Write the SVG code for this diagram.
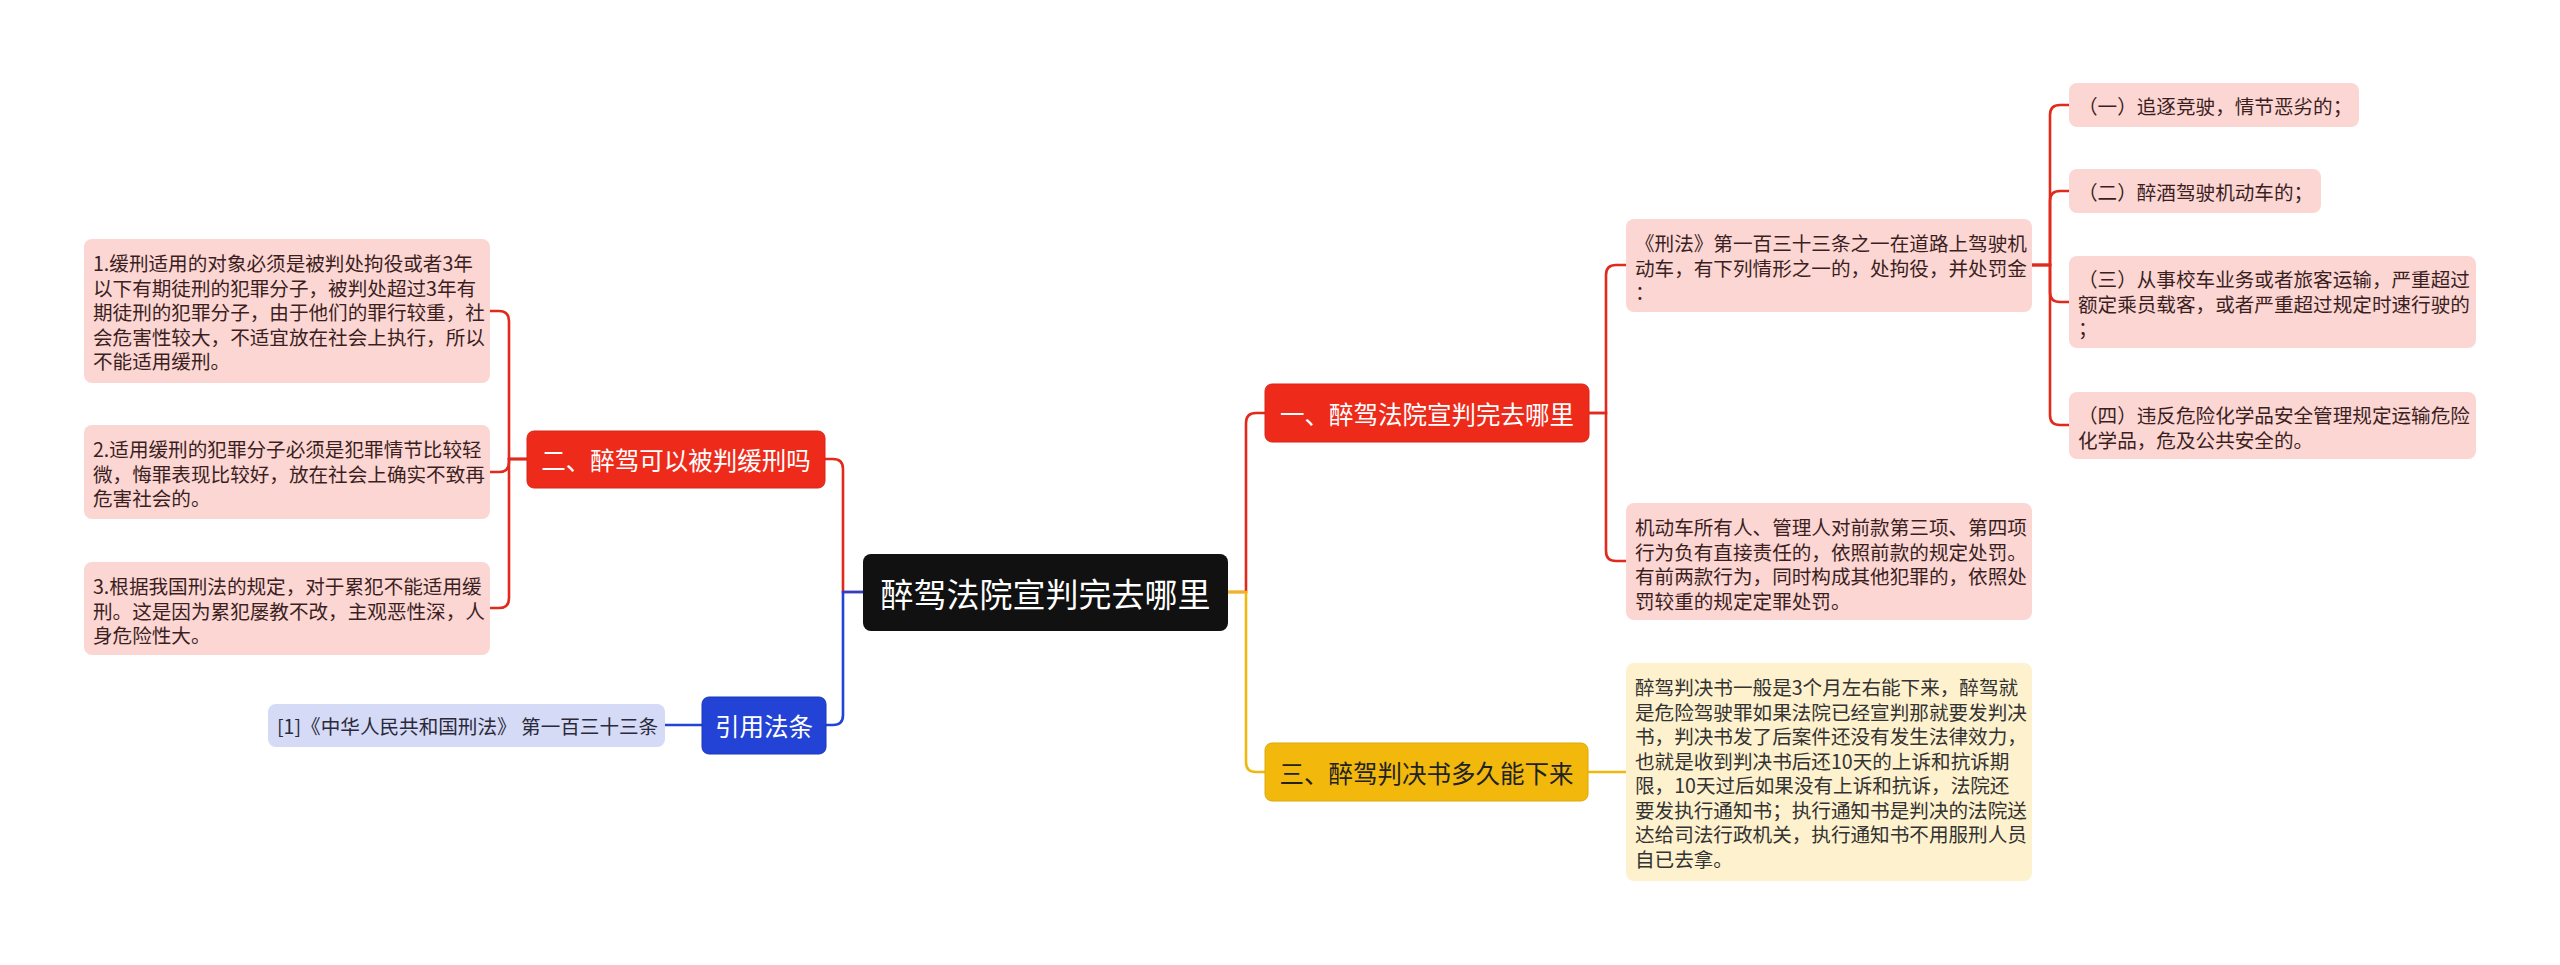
<svg xmlns="http://www.w3.org/2000/svg" width="2560" height="965" viewBox="0 0 2560 965">
<style>
text{font-family:"Noto Sans CJK SC","Noto Sans",sans-serif;dominant-baseline:central}
.lf{font-size:19.6px}
.pk{fill:#FCD6D3}
.pkt{fill:#3b1f1f}
.yl{fill:#FEF1CD}
.ylt{fill:#333333}
.lv{fill:#D5DAF6}
.lvt{fill:#2a2a3a}
.nd{font-size:24.5px;text-anchor:middle}
.red{fill:#EE2B1B;stroke:#D82518;stroke-width:1}
.blu{fill:#2343D6;stroke:#1C37B8;stroke-width:1}
.yel{fill:#F2B90C;stroke:#DDA808;stroke-width:1}
.w{fill:#ffffff}
.c{fill:none;stroke-width:2.6;stroke-linecap:round}
.cr{stroke:#E02A1C}
.cb{stroke:#2343D6}
.cy{stroke:#EFB80E}
</style>
<rect width="2560" height="965" fill="#ffffff"/>
<g id="connectors">
<path class="c cr" d="M863,592 H843 V469 Q843,459 833,459 H825"/>
<path class="c cb" d="M863,592 H843 V715 Q843,725 833,725 H826"/>
<path class="c cb" d="M702,725 H665"/>
<path class="c cr" d="M527,459 H509 V321 Q509,311 499,311 H490"/>
<path class="c cr" d="M527,459 H509 V462 Q509,472 499,472 H490"/>
<path class="c cr" d="M527,459 H509 V598 Q509,608 499,608 H490"/>
<path class="c cr" d="M1228,592 H1246 V423 Q1246,413 1256,413 H1265"/>
<path class="c cy" d="M1228,592 H1246 V762 Q1246,772 1256,772 H1265"/>
<path class="c cy" d="M1588,772 H1626"/>
<path class="c cr" d="M1589,413 H1606 V275 Q1606,265 1616,265 H1626"/>
<path class="c cr" d="M1589,413 H1606 V551 Q1606,561 1616,561 H1626"/>
<path class="c cr" d="M2032,265 H2050 V115 Q2050,105 2060,105 H2069"/>
<path class="c cr" d="M2032,265 H2050 V201 Q2050,191 2060,191 H2069"/>
<path class="c cr" d="M2032,265 H2050 V292 Q2050,302 2060,302 H2069"/>
<path class="c cr" d="M2032,265 H2050 V415 Q2050,425 2060,425 H2069"/>
</g>
<g id="root">
<rect x="863" y="554" width="365" height="77" rx="8" fill="#111111"/>
<text x="1045.5" y="592.5" font-size="33" text-anchor="middle" class="w">醉驾法院宣判完去哪里</text>
</g>
<g id="branch2">
<rect class="red" x="527" y="431" width="298" height="57" rx="7"/>
<text class="nd w" x="676" y="459.5">二、醉驾可以被判缓刑吗</text>
</g>
<g id="leaf2a">
<rect class="pk" x="84" y="239" width="406" height="144" rx="8"/>
<text class="lf pkt" x="93"><tspan x="93" y="262">1.缓刑适用的对象必须是被判处拘役或者3年</tspan><tspan x="93" y="286.5">以下有期徒刑的犯罪分子，被判处超过3年有</tspan><tspan x="93" y="311">期徒刑的犯罪分子，由于他们的罪行较重，社</tspan><tspan x="93" y="335.5">会危害性较大，不适宜放在社会上执行，所以</tspan><tspan x="93" y="360">不能适用缓刑。</tspan></text>
</g>
<g id="leaf2b">
<rect class="pk" x="84" y="425" width="406" height="94" rx="8"/>
<text class="lf pkt" x="93"><tspan x="93" y="448">2.适用缓刑的犯罪分子必须是犯罪情节比较轻</tspan><tspan x="93" y="472.5">微，悔罪表现比较好，放在社会上确实不致再</tspan><tspan x="93" y="497">危害社会的。</tspan></text>
</g>
<g id="leaf2c">
<rect class="pk" x="84" y="562" width="406" height="93" rx="8"/>
<text class="lf pkt" x="93"><tspan x="93" y="585">3.根据我国刑法的规定，对于累犯不能适用缓</tspan><tspan x="93" y="609.5">刑。这是因为累犯屡教不改，主观恶性深，人</tspan><tspan x="93" y="634">身危险性大。</tspan></text>
</g>
<g id="branchRef">
<rect class="blu" x="702" y="697" width="124" height="57" rx="7"/>
<text class="nd w" x="764" y="725.5">引用法条</text>
</g>
<g id="leafRef">
<rect class="lv" x="268" y="704" width="397" height="43" rx="8"/>
<text class="lf lvt" x="277" y="725.5">[1]《中华人民共和国刑法》 第一百三十三条</text>
</g>
<g id="branch1">
<rect class="red" x="1265" y="384" width="324" height="58" rx="7"/>
<text class="nd w" x="1427" y="413">一、醉驾法院宣判完去哪里</text>
</g>
<g id="leaf1a">
<rect class="pk" x="1626" y="219" width="406" height="93" rx="8"/>
<text class="lf pkt" x="1635"><tspan x="1635" y="242">《刑法》第一百三十三条之一在道路上驾驶机</tspan><tspan x="1635" y="266.5">动车，有下列情形之一的，处拘役，并处罚金</tspan><tspan x="1635" y="291">：</tspan></text>
</g>
<g id="leaf1b">
<rect class="pk" x="1626" y="503" width="406" height="117" rx="8"/>
<text class="lf pkt" x="1635"><tspan x="1635" y="526">机动车所有人、管理人对前款第三项、第四项</tspan><tspan x="1635" y="550.5">行为负有直接责任的，依照前款的规定处罚。</tspan><tspan x="1635" y="575">有前两款行为，同时构成其他犯罪的，依照处</tspan><tspan x="1635" y="599.5">罚较重的规定定罪处罚。</tspan></text>
</g>
<g id="leaf1a1">
<rect class="pk" x="2069" y="83" width="290" height="44" rx="8"/>
<text class="lf pkt" x="2078" y="105">（一）追逐竞驶，情节恶劣的；</text>
</g>
<g id="leaf1a2">
<rect class="pk" x="2069" y="169" width="252" height="44" rx="8"/>
<text class="lf pkt" x="2078" y="191">（二）醉酒驾驶机动车的；</text>
</g>
<g id="leaf1a3">
<rect class="pk" x="2069" y="256" width="407" height="92" rx="8"/>
<text class="lf pkt" x="2078"><tspan x="2078" y="278">（三）从事校车业务或者旅客运输，严重超过</tspan><tspan x="2078" y="302.5">额定乘员载客，或者严重超过规定时速行驶的</tspan><tspan x="2078" y="327">；</tspan></text>
</g>
<g id="leaf1a4">
<rect class="pk" x="2069" y="392" width="407" height="67" rx="8"/>
<text class="lf pkt" x="2078"><tspan x="2078" y="414">（四）违反危险化学品安全管理规定运输危险</tspan><tspan x="2078" y="438.5">化学品，危及公共安全的。</tspan></text>
</g>
<g id="branch3">
<rect class="yel" x="1265" y="743" width="323" height="58" rx="7"/>
<text class="nd" x="1426.5" y="772" fill="#222222">三、醉驾判决书多久能下来</text>
</g>
<g id="leaf3">
<rect class="yl" x="1626" y="663" width="406" height="218" rx="8"/>
<text class="lf ylt" x="1635"><tspan x="1635" y="686">醉驾判决书一般是3个月左右能下来，醉驾就</tspan><tspan x="1635" y="710.5">是危险驾驶罪如果法院已经宣判那就要发判决</tspan><tspan x="1635" y="735">书，判决书发了后案件还没有发生法律效力，</tspan><tspan x="1635" y="759.5">也就是收到判决书后还10天的上诉和抗诉期</tspan><tspan x="1635" y="784">限，10天过后如果没有上诉和抗诉，法院还</tspan><tspan x="1635" y="808.5">要发执行通知书；执行通知书是判决的法院送</tspan><tspan x="1635" y="833">达给司法行政机关，执行通知书不用服刑人员</tspan><tspan x="1635" y="857.5">自已去拿。</tspan></text>
</g>
</svg>
